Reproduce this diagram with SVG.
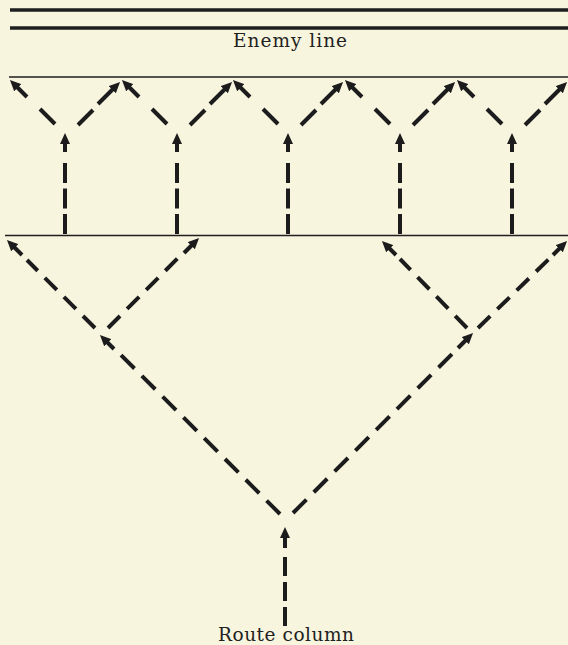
<svg xmlns="http://www.w3.org/2000/svg" width="568" height="645" viewBox="0 0 568 645">
<style>
.bg{fill:#f8f5df}
.thick{stroke:#1e1e1e;stroke-width:3.5}
.thin{stroke:#1e1e1e;stroke-width:1.5}
.d{stroke:#1c1c1c;stroke-width:4;fill:none}
.v{stroke-dasharray:20 5.5}
.g{stroke-dasharray:17 10}
.l{stroke-dasharray:19 10.4}
.a{stroke:#1c1c1c;stroke-width:4;fill:none;marker-end:url(#ah)}
.t{font-family:"DejaVu Serif","Liberation Serif",serif;font-size:18.5px;fill:#222}
</style>
<defs>
<marker id="ah" markerUnits="userSpaceOnUse" viewBox="0 0 11 10" markerWidth="11" markerHeight="10" refX="1" refY="5" orient="auto">
<path d="M0,0 L11,5 L0,10 z" fill="#1c1c1c"/>
</marker>
</defs>
<rect class="bg" x="0" y="0" width="568" height="645"/>
<g id="enemy-line">
<line class="thick" x1="10" y1="10" x2="568" y2="10"/>
<line class="thick" x1="10" y1="28" x2="568" y2="28"/>
<text class="t" x="233" y="47" textLength="114" lengthAdjust="spacing">Enemy line</text>
</g>
<g id="line-1"><line class="thin" x1="9" y1="77" x2="568" y2="77"/></g>
<g id="line-2"><line class="thin" x1="5" y1="235.5" x2="568" y2="235.5"/></g>
<g id="route-column"><text class="t" x="218" y="641" textLength="136" lengthAdjust="spacing">Route column</text></g>
<g id="connectors">
<!-- top band Y 1 -->
<line class="d v" x1="65" y1="234" x2="65" y2="163"/><line class="a" x1="65" y1="152" x2="65" y2="143"/>
<line class="d" x1="55" y1="124" x2="40" y2="109"/><line class="a" x1="27" y1="97" x2="17" y2="87"/>
<line class="d" x1="78" y1="125" x2="93" y2="110"/><line class="a" x1="98" y1="104" x2="113" y2="89"/>
<!-- Y 2 -->
<line class="d v" x1="177" y1="234" x2="177" y2="163"/><line class="a" x1="177" y1="152" x2="177" y2="143"/>
<line class="d" x1="167" y1="124" x2="152" y2="109"/><line class="a" x1="139" y1="97" x2="129" y2="87"/>
<line class="d" x1="190" y1="125" x2="205" y2="110"/><line class="a" x1="210" y1="104" x2="225" y2="89"/>
<!-- Y 3 -->
<line class="d v" x1="288" y1="234" x2="288" y2="163"/><line class="a" x1="288" y1="152" x2="288" y2="143"/>
<line class="d" x1="278" y1="124" x2="263" y2="109"/><line class="a" x1="250" y1="97" x2="240" y2="87"/>
<line class="d" x1="301" y1="125" x2="316" y2="110"/><line class="a" x1="321" y1="104" x2="336" y2="89"/>
<!-- Y 4 -->
<line class="d v" x1="400" y1="234" x2="400" y2="163"/><line class="a" x1="400" y1="152" x2="400" y2="143"/>
<line class="d" x1="390" y1="124" x2="375" y2="109"/><line class="a" x1="362" y1="97" x2="352" y2="87"/>
<line class="d" x1="413" y1="125" x2="428" y2="110"/><line class="a" x1="433" y1="104" x2="448" y2="89"/>
<!-- Y 5 -->
<line class="d v" x1="512" y1="234" x2="512" y2="163"/><line class="a" x1="512" y1="152" x2="512" y2="143"/>
<line class="d" x1="502" y1="124" x2="487" y2="109"/><line class="a" x1="474" y1="97" x2="464" y2="87"/>
<line class="d" x1="525" y1="125" x2="540" y2="110"/><line class="a" x1="545" y1="104" x2="560" y2="89"/>
<!-- middle left Y -->
<line class="d g" x1="95" y1="328" x2="27" y2="260"/><line class="a" x1="22" y1="255" x2="14" y2="247"/>
<line class="d g" x1="108" y1="328" x2="178" y2="258"/><line class="a" x1="184" y1="253" x2="192" y2="245"/>
<!-- middle right Y -->
<line class="d g" x1="467" y1="328" x2="400" y2="259"/><line class="a" x1="396" y1="255" x2="389" y2="248"/>
<line class="d g" x1="478" y1="328" x2="550" y2="258"/><line class="a" x1="553" y1="255" x2="560" y2="248"/>
<!-- bottom V -->
<line class="d l" x1="280" y1="514" x2="121" y2="355"/><line class="a" x1="114" y1="349" x2="107" y2="342"/>
<line class="d l" x1="293" y1="513" x2="452" y2="354"/><line class="a" x1="458" y1="348" x2="466" y2="340"/>
<line class="d" style="stroke-dasharray:19 6" x1="285" y1="626" x2="285" y2="557"/><line class="a" x1="285" y1="548" x2="285" y2="537"/>
</g>
</svg>
